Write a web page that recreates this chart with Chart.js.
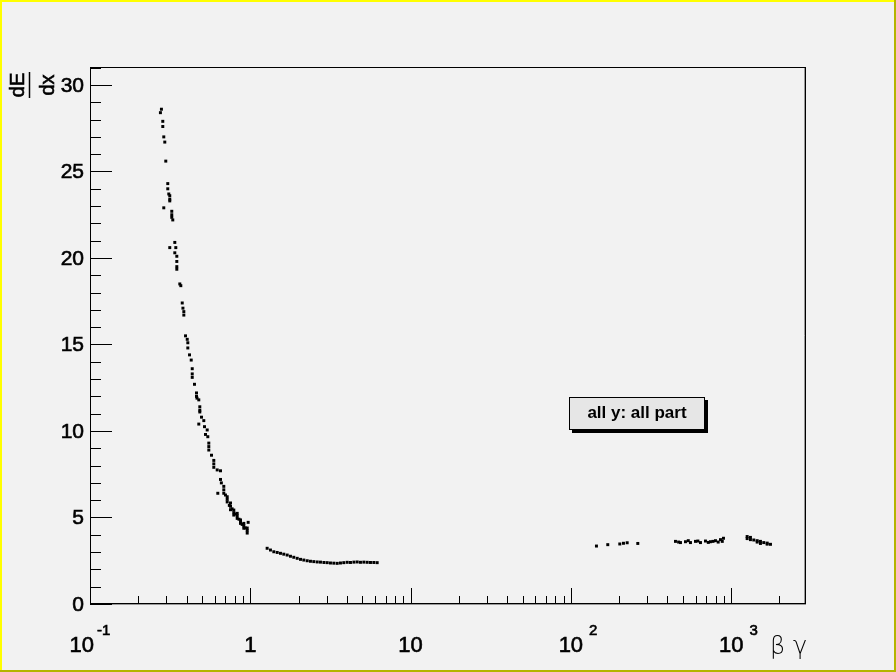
<!DOCTYPE html>
<html>
<head>
<meta charset="utf-8">
<script src="https://cdn.jsdelivr.net/npm/chart.js@4/dist/chart.umd.min.js"></script>
<style>
  html, body { margin: 0; padding: 0; background: #f2f2f2; }
  canvas { display: block; }
</style>
</head>
<body>
<canvas id="c" width="896" height="672"></canvas>
<script>
// beta*gamma (x) and dE/dx (y)
const betaGamma = [
  0.279, 0.275, 0.2845, 0.2845, 0.2886, 0.2928, 0.2970, 0.3056, 0.3056, 0.3101,
  0.3145, 0.3145, 0.3145, 0.2886, 0.3237, 0.3237, 0.3237, 0.3284, 0.3381, 0.3145,
  0.3430, 0.3381, 0.3480, 0.3480, 0.3480, 0.3480, 0.3633, 0.3686, 0.3762, 0.3800,
  0.3849, 0.3849, 0.3944, 0.4042, 0.4076, 0.4076, 0.4177, 0.4280, 0.4343, 0.4343,
  0.4343, 0.4486, 0.4617, 0.4617, 0.4650, 0.4772, 0.4842, 0.4842, 0.4842, 0.4962,
  0.5128, 0.4772, 0.5180, 0.5385, 0.5255, 0.5432, 0.5510, 0.5510, 0.5510, 0.5728,
  0.5920, 0.5920, 0.5920, 0.6216, 0.6518, 0.6518, 0.6271, 0.6600, 0.6834, 0.6834,
  0.6834, 0.7000, 0.7177, 0.7177, 0.7177, 0.7400, 0.7525, 0.7525, 0.7525, 0.7700,
  0.7890, 0.7890, 0.7890, 0.8100, 0.8285, 0.8285, 0.8285, 0.8500, 0.8688, 0.8688,
  0.8688, 0.8900, 0.9110, 0.9110, 0.9110, 0.9300, 0.9566, 0.9566, 0.9566, 0.9700,
  // second band
  1.274, 1.336, 1.402, 1.472, 1.543, 1.618, 1.699, 1.781, 1.868, 1.962,
  2.057, 2.157, 2.265, 2.374, 2.490, 2.615, 2.741, 2.880, 3.018, 3.164,
  3.320, 3.485, 3.653, 3.830, 4.023, 4.217, 4.430, 4.644, 4.869, 5.110,
  5.361, 5.621, 5.900, 6.188,
  // high beta*gamma
  144.4, 169.9, 201.9, 212.9, 224.5, 261.5,
  449.3, 470.0, 482.7, 518.7, 540.0, 557.2, 598.8, 620.0, 643.4, 691.3,
  720.0, 742.8, 770.0, 798.2, 830.0, 857.7, 880.0, 895.4,
  1258, 1258, 1319, 1319, 1384, 1453, 1453, 1523, 1523, 1597, 1677, 1677, 1759
];
const dEdx = [
  28.6, 28.4, 27.9, 27.6, 27.0, 26.7, 25.6, 24.3, 24.0, 23.7,
  23.6, 23.4, 23.3, 22.9, 22.7, 22.5, 22.35, 22.2, 20.9, 20.6,
  20.6, 20.3, 20.1, 19.8, 19.5, 19.35, 18.5, 18.4, 17.4, 17.1,
  16.9, 16.7, 15.5, 15.3, 15.1, 14.8, 14.4, 14.1, 13.6, 13.3,
  13.1, 12.7, 12.2, 12.0, 11.9, 11.8, 11.4, 11.2, 11.1, 10.8,
  10.6, 10.4, 10.25, 10.06, 9.8, 9.67, 9.3, 9.1, 8.9, 8.6,
  8.3, 8.1, 7.9, 7.75, 7.7, 7.2, 6.4, 7.0, 6.8, 6.6,
  6.4, 6.3, 6.2, 6.05, 5.9, 5.7, 5.84, 5.65, 5.45, 5.5,
  5.43, 5.28, 5.14, 5.2, 5.24, 5.1, 4.95, 4.9, 4.86, 4.76,
  4.66, 4.6, 4.66, 4.52, 4.38, 4.4, 4.39, 4.25, 4.1, 4.72,
  3.22, 3.12, 3.02, 2.98, 2.93, 2.88, 2.83, 2.76, 2.70, 2.64,
  2.58, 2.54, 2.50, 2.47, 2.45, 2.43, 2.42, 2.40, 2.39, 2.37,
  2.36, 2.35, 2.37, 2.39, 2.41, 2.40, 2.42, 2.43, 2.41, 2.42,
  2.41, 2.40, 2.40, 2.39,
  3.35, 3.43, 3.47, 3.51, 3.54, 3.50,
  3.62, 3.58, 3.55, 3.60, 3.66, 3.55, 3.62, 3.64, 3.55, 3.64,
  3.56, 3.60, 3.62, 3.66, 3.58, 3.72, 3.62, 3.80,
  3.90, 3.78, 3.85, 3.72, 3.70, 3.66, 3.58, 3.62, 3.50, 3.55, 3.46, 3.52, 3.45
];

const yMajorTicks = [0, 5, 10, 15, 20, 25, 30];
const xDecades = [0.1, 1, 10, 100, 1000];
const xTickLabels = [
  { v: 0.1, base: '10', exp: '-1' },
  { v: 1, base: '1' },
  { v: 10, base: '10' },
  { v: 100, base: '10', exp: '2' },
  { v: 1000, base: '10', exp: '3' }
];
const legendText = 'all y: all part';

const points = betaGamma.map((x, i) => ({ x: x, y: dEdx[i] }));

// fill + thin stroke, gives the heavier look of the ROOT labels
function heavyText(ctx, s, x, y) {
  ctx.fillText(s, x, y);
  ctx.strokeText(s, x, y);
}

const rootStyle = {
  id: 'rootStyle',
  beforeDraw(chart) {
    const ctx = chart.ctx;
    const W = chart.width, H = chart.height;
    ctx.save();
    ctx.fillStyle = '#f2f2f2';
    ctx.fillRect(0, 0, W, H);
    // canvas border (ROOT style bevel)
    ctx.fillStyle = '#ffff00';
    ctx.fillRect(0, 0, W, 2);
    ctx.fillRect(0, 0, 2, H);
    ctx.fillStyle = '#b4b400';
    ctx.fillRect(0, H - 2, W, 2);
    ctx.fillRect(W - 2, 0, 2, H);
    ctx.restore();
  },
  afterDatasetsDraw(chart) {
    const ctx = chart.ctx;
    const a = chart.chartArea;
    const xs = chart.scales.x, ys = chart.scales.y;
    ctx.save();

    // frame
    ctx.strokeStyle = '#999999';
    ctx.lineWidth = 1;
    ctx.beginPath();
    ctx.moveTo(a.left, a.bottom + 0.5); ctx.lineTo(a.right, a.bottom + 0.5);
    ctx.moveTo(a.right - 1.5, a.top); ctx.lineTo(a.right - 1.5, a.bottom);
    ctx.stroke();
    ctx.strokeStyle = '#000000';
    ctx.strokeRect(a.left + 0.5, a.top + 0.5, a.right - a.left - 1, a.bottom - a.top - 1);

    // y ticks
    ctx.beginPath();
    for (let v = 0; v <= ys.max; v += 1) {
      const py = Math.round(ys.getPixelForValue(v)) + 0.5;
      const len = (v % 5 === 0) ? 22 : 11;
      ctx.moveTo(a.left, py); ctx.lineTo(a.left + len, py);
    }
    // x ticks
    for (const d of xDecades) {
      for (let k = 1; k <= 9; k++) {
        const v = d * k;
        if (v > xs.max) break;
        const px = Math.round(xs.getPixelForValue(v)) + 0.5;
        const len = k === 1 ? 16 : 8;
        ctx.moveTo(px, a.bottom); ctx.lineTo(px, a.bottom - len);
      }
    }
    ctx.stroke();

    // y labels
    ctx.fillStyle = '#000000';
    ctx.strokeStyle = '#000000';
    ctx.lineWidth = 0.6;
    ctx.font = '21px "Liberation Sans", Arial, sans-serif';
    ctx.textAlign = 'right';
    ctx.textBaseline = 'middle';
    for (const v of yMajorTicks) {
      heavyText(ctx, String(v), a.left - 6, ys.getPixelForValue(v) + 1);
    }

    // x labels
    ctx.textBaseline = 'alphabetic';
    ctx.textAlign = 'left';
    const baseY = 652;
    const baseFont = '22px "Liberation Sans", Arial, sans-serif';
    for (const t of xTickLabels) {
      const px = xs.getPixelForValue(t.v);
      ctx.font = baseFont;
      const bw = ctx.measureText(t.base).width;
      let bx = px - bw / 2;
      if (t.exp) {
        ctx.font = '15px "Liberation Sans", Arial, sans-serif';
        const ew = ctx.measureText(t.exp).width;
        const neg = t.exp.charAt(0) === '-';
        const gap = neg ? 3 : 6;
        if (neg) bx = px - (bw + gap + ew) / 2;
        heavyText(ctx, t.exp, bx + bw + gap, baseY - 17);
        ctx.font = baseFont;
      }
      heavyText(ctx, t.base, bx, baseY);
    }

    // x title
    ctx.font = '200 24px "DejaVu Sans", sans-serif';
    ctx.fillText('\u03B2', 770, 654);
    ctx.fillText('\u03B3', 793, 654);

    // y title dE/dx, rotated
    ctx.translate(29, 85);
    ctx.rotate(-Math.PI / 2);
    ctx.font = '20px "Liberation Sans", Arial, sans-serif';
    ctx.textAlign = 'center';
    heavyText(ctx, 'dE', 0, -5);
    heavyText(ctx, 'dx', 0, 25);
    ctx.beginPath();
    ctx.moveTo(-13, 0.5); ctx.lineTo(13, 0.5);
    ctx.lineWidth = 1.5;
    ctx.stroke();
    ctx.setTransform(1, 0, 0, 1, 0, 0);

    // legend box with shadow
    const bx0 = 569, by0 = 397, bw0 = 136, bh0 = 33;
    ctx.fillStyle = '#000000';
    ctx.fillRect(bx0 + 3, by0 + 3, bw0, bh0);
    ctx.fillStyle = '#e6e6e6';
    ctx.fillRect(bx0, by0, bw0, bh0);
    ctx.strokeStyle = '#000000';
    ctx.lineWidth = 1;
    ctx.strokeRect(bx0 + 0.5, by0 + 0.5, bw0 - 1, bh0 - 1);
    ctx.fillStyle = '#000000';
    ctx.font = 'bold 17px "Liberation Sans", Arial, sans-serif';
    ctx.textAlign = 'center';
    ctx.textBaseline = 'middle';
    ctx.fillText(legendText, bx0 + bw0 / 2, by0 + bh0 / 2);

    ctx.restore();
  }
};

new Chart(document.getElementById('c'), {
  type: 'scatter',
  data: {
    datasets: [{
      label: 'dE/dx',
      data: points,
      pointStyle: 'rect',
      pointRadius: 2.1,
      pointHoverRadius: 2.1,
      backgroundColor: '#000000',
      borderWidth: 0
    }]
  },
  options: {
    responsive: false,
    animation: false,
    events: [],
    layout: { padding: { left: 90, right: 90, top: 67, bottom: 68 } },
    plugins: { legend: { display: false }, tooltip: { enabled: false } },
    scales: {
      x: { type: 'logarithmic', min: 0.1, max: 2930, display: false },
      y: { type: 'linear', min: 0, max: 31.04, display: false }
    }
  },
  plugins: [rootStyle]
});
</script>
</body>
</html>
